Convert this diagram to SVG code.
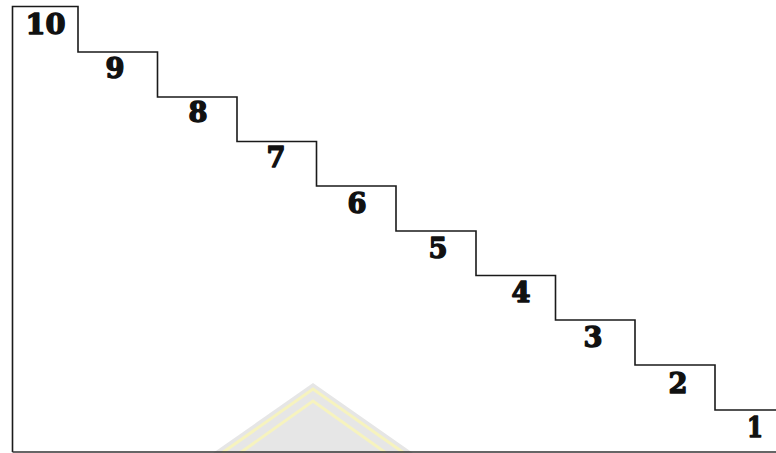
<svg xmlns="http://www.w3.org/2000/svg" width="776" height="453" viewBox="0 0 776 453">
<style>
.stair{fill:none;stroke:#1a1a1a;stroke-width:1.6;stroke-linejoin:miter}
.num{font-family:"DejaVu Serif","Liberation Serif",serif;font-weight:bold;font-size:27px;fill:#111;stroke:#111;stroke-width:1.4;stroke-linejoin:round;text-anchor:middle}
</style>
<rect width="776" height="453" fill="#ffffff"/>
<g id="watermark" opacity="0.9">
<polygon points="313,383 213,453 413,453" fill="#e4e4e4"/>
<polyline points="222,453 313,389 404,453" fill="none" stroke="#f6f2b8" stroke-width="3"/>
<polyline points="240,453 313,401 386,453" fill="none" stroke="#f6f2b8" stroke-width="3"/>
</g>
<g id="connectors">
<path class="stair" d="M12.5,452 V6.5 H78 V52 H157.5 V97 H237 V141.5 H316.5 V186 H396 V231 H476 V275.5 H555.5 V320 H635 V365 H715 V410 H776"/>
<line x1="12.5" y1="452" x2="776" y2="452" stroke="#333" stroke-width="1.6"/>
</g>
<g id="step10"><text class="num" x="45.5" y="34" textLength="40" lengthAdjust="spacingAndGlyphs">10</text></g>
<g id="step9"><text class="num" x="115" y="78" textLength="19" lengthAdjust="spacingAndGlyphs">9</text></g>
<g id="step8"><text class="num" x="198" y="122" textLength="19" lengthAdjust="spacingAndGlyphs">8</text></g>
<g id="step7"><text class="num" x="276" y="167" textLength="19" lengthAdjust="spacingAndGlyphs">7</text></g>
<g id="step6"><text class="num" x="357" y="213" textLength="19" lengthAdjust="spacingAndGlyphs">6</text></g>
<g id="step5"><text class="num" x="438" y="258" textLength="19" lengthAdjust="spacingAndGlyphs">5</text></g>
<g id="step4"><text class="num" x="521" y="302" textLength="19" lengthAdjust="spacingAndGlyphs">4</text></g>
<g id="step3"><text class="num" x="593" y="347" textLength="19" lengthAdjust="spacingAndGlyphs">3</text></g>
<g id="step2"><text class="num" x="678" y="393" textLength="19" lengthAdjust="spacingAndGlyphs">2</text></g>
<g id="step1"><text class="num" x="755" y="437" textLength="16" lengthAdjust="spacingAndGlyphs">1</text></g>
</svg>
